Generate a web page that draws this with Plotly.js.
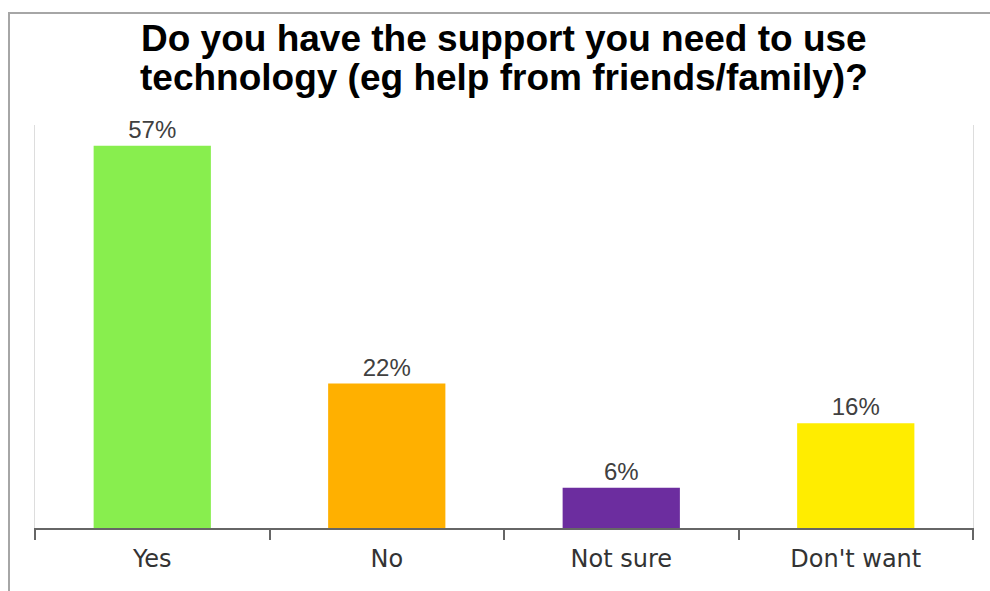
<!DOCTYPE html>
<html>
<head>
<meta charset="utf-8">
<script src="https://cdn.plot.ly/plotly-3.0.1.min.js"></script>
<style>
  html, body { margin: 0; padding: 0; background: #fff; overflow: hidden; }
  #chart { width: 990px; height: 591px; }
  #frame { position: absolute; left: 8px; top: 12px; width: 2000px; height: 2000px;
           border-left: 2px solid #a6a6a6; border-top: 2px solid #a6a6a6; pointer-events: none; }
</style>
</head>
<body>
<div id="chart"></div>
<div id="frame"></div>
<script>
const categories = ["Yes", "No", "Not sure", "Don't want"];
const values = [56.9, 21.5, 6.0, 15.6];
const labels = ["57%", "22%", "6%", "16%"];
const colors = ["#88ee4e", "#ffb000", "#6c2d9f", "#ffed00"];
const titleLines = ["Do you have the support you need to use", "technology (eg help from friends/family)?"];

const trace = {
  type: "bar",
  x: categories,
  y: values,
  text: labels,
  textposition: "outside",
  cliponaxis: false,
  textfont: { family: "Liberation Sans, Arial, sans-serif", size: 24, color: "#404040" },
  marker: { color: colors, line: { width: 0 } },
  hoverinfo: "x+text"
};

const titleFont = { family: "Liberation Sans, Arial, sans-serif", size: 37, color: "#000" };

const layout = {
  width: 990,
  height: 591,
  paper_bgcolor: "#ffffff",
  plot_bgcolor: "#ffffff",
  margin: { l: 35, r: 17, t: 125, b: 63 },
  bargap: 0.5,
  showlegend: false,
  annotations: [
    { text: "<b>" + titleLines[0] + "</b>", xref: "paper", yref: "paper", x: 0.5, y: 1.215,
      xanchor: "center", yanchor: "middle", showarrow: false, font: titleFont },
    { text: "<b>" + titleLines[1] + "</b>", xref: "paper", yref: "paper", x: 0.5, y: 1.117,
      xanchor: "center", yanchor: "middle", showarrow: false, font: titleFont }
  ],
  xaxis: {
    type: "category",
    showgrid: false,
    showline: true,
    linecolor: "#666666",
    linewidth: 2,
    ticks: "outside",
    tickson: "boundaries",
    ticklen: 10,
    tickwidth: 2,
    tickcolor: "#666666",
    ticklabelstandoff: 8,
    tickfont: { family: "DejaVu Sans, sans-serif", size: 24, color: "#333333" },
    zeroline: false
  },
  yaxis: {
    range: [0, 60],
    showgrid: false,
    zeroline: false,
    showticklabels: false,
    ticks: "",
    showline: true,
    mirror: true,
    linecolor: "#dddddd",
    linewidth: 1
  }
};

Plotly.newPlot("chart", [trace], layout, { displayModeBar: false, staticPlot: true });
</script>
</body>
</html>
